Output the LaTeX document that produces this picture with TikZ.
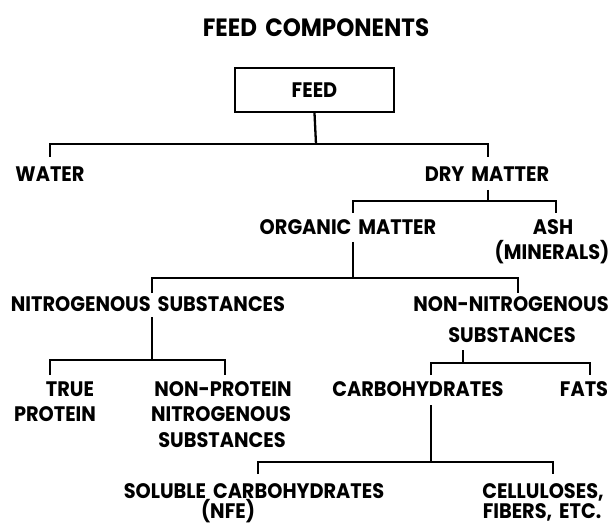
\documentclass[tikz,border=0pt]{standalone}
\usepackage{fontspec}
\setmainfont{Poppins}[FakeStretch=0.92,WordSpace=1.7]
\begin{document}
\begin{tikzpicture}[x=1pt,y=-1pt,
  lbl/.style={anchor=base,inner sep=0pt,font=\fontsize{21}{25}\selectfont\bfseries},
  conn/.style={line width=2.3pt},
  boxstyle/.style={draw,line width=2.3pt,minimum width=159pt,minimum height=44pt,inner sep=0pt,
    font=\fontsize{21}{25}\selectfont\bfseries}]
\useasboundingbox (0,0) rectangle (610,529);
\fill[white] (0,0) rectangle (610,529);

% texts
\node[lbl,font=\fontsize{25}{28}\selectfont\bfseries] (title) at (316,37) {FEED COMPONENTS};
\node[boxstyle] (feed) at (314.5,90) {FEED};
\node[lbl] (water) at (50,182) {WATER};
\node[lbl] (dry) at (487,182) {DRY MATTER};
\node[lbl] (org) at (348,235) {ORGANIC MATTER};
\node[lbl] (ash) at (553,235) {ASH};
\node[lbl] (minerals) at (552,260) {(MINERALS)};
\node[lbl] (nit) at (148,311) {NITROGENOUS SUBSTANCES};
\node[lbl] (non) at (511,311) {NON-NITROGENOUS};
\node[lbl] (nonsub) at (512,342) {SUBSTANCES};
\node[lbl] (true) at (70,396) {TRUE};
\node[lbl] (protein) at (55,421) {PROTEIN};
\node[lbl] (npn) at (223,396) {NON-PROTEIN};
\node[lbl] (npn2) at (221,421) {NITROGENOUS};
\node[lbl] (npn3) at (222,447) {SUBSTANCES};
\node[lbl] (carb) at (418,396) {CARBOHYDRATES};
\node[lbl] (fats) at (584,396) {FATS};
\node[lbl] (sol) at (254,498) {SOLUBLE CARBOHYDRATES};
\node[lbl] (nfe) at (228,518) {(NFE)};
\node[lbl] (cel) at (543,498) {CELLULOSES,};
\node[lbl] (fib) at (542,518) {FIBERS, ETC.};

% junctions
\coordinate (j1) at (316,144);
\coordinate (d-water) at (50,157);
\coordinate (d-dry) at (488,157);
\coordinate (s-dry) at (488,190);
\coordinate (j2) at (488,201);
\coordinate (d-org) at (353,213);
\coordinate (d-ash) at (556,213);
\coordinate (s-org) at (353,242);
\coordinate (j3) at (353,278);
\coordinate (d-nit) at (152,293);
\coordinate (d-non) at (518,293);
\coordinate (s-nit) at (152,317);
\coordinate (j4) at (152,360);
\coordinate (d-true) at (50,375);
\coordinate (d-npn) at (225,375);
\coordinate (s-non) at (463,350);
\coordinate (j5) at (463,363);
\coordinate (d-carb) at (431,375);
\coordinate (d-fats) at (590,375);
\coordinate (s-carb) at (431,405);
\coordinate (j6) at (431,462);
\coordinate (d-sol) at (258,474);
\coordinate (d-cel) at (553,474);

% connectors
\draw[conn] (feed.south) -- (j1);
\draw[conn] (d-water) |- (j1) -| (d-dry);
\draw[conn] (s-dry) -- (j2);
\draw[conn] (d-org) |- (j2) -| (d-ash);
\draw[conn] (s-org) -- (j3);
\draw[conn] (d-nit) |- (j3) -| (d-non);
\draw[conn] (s-nit) -- (j4);
\draw[conn] (d-true) |- (j4) -| (d-npn);
\draw[conn] (s-non) -- (j5);
\draw[conn] (d-carb) |- (j5) -| (d-fats);
\draw[conn] (s-carb) -- (j6);
\draw[conn] (d-sol) |- (j6) -| (d-cel);
\end{tikzpicture}
\end{document}
